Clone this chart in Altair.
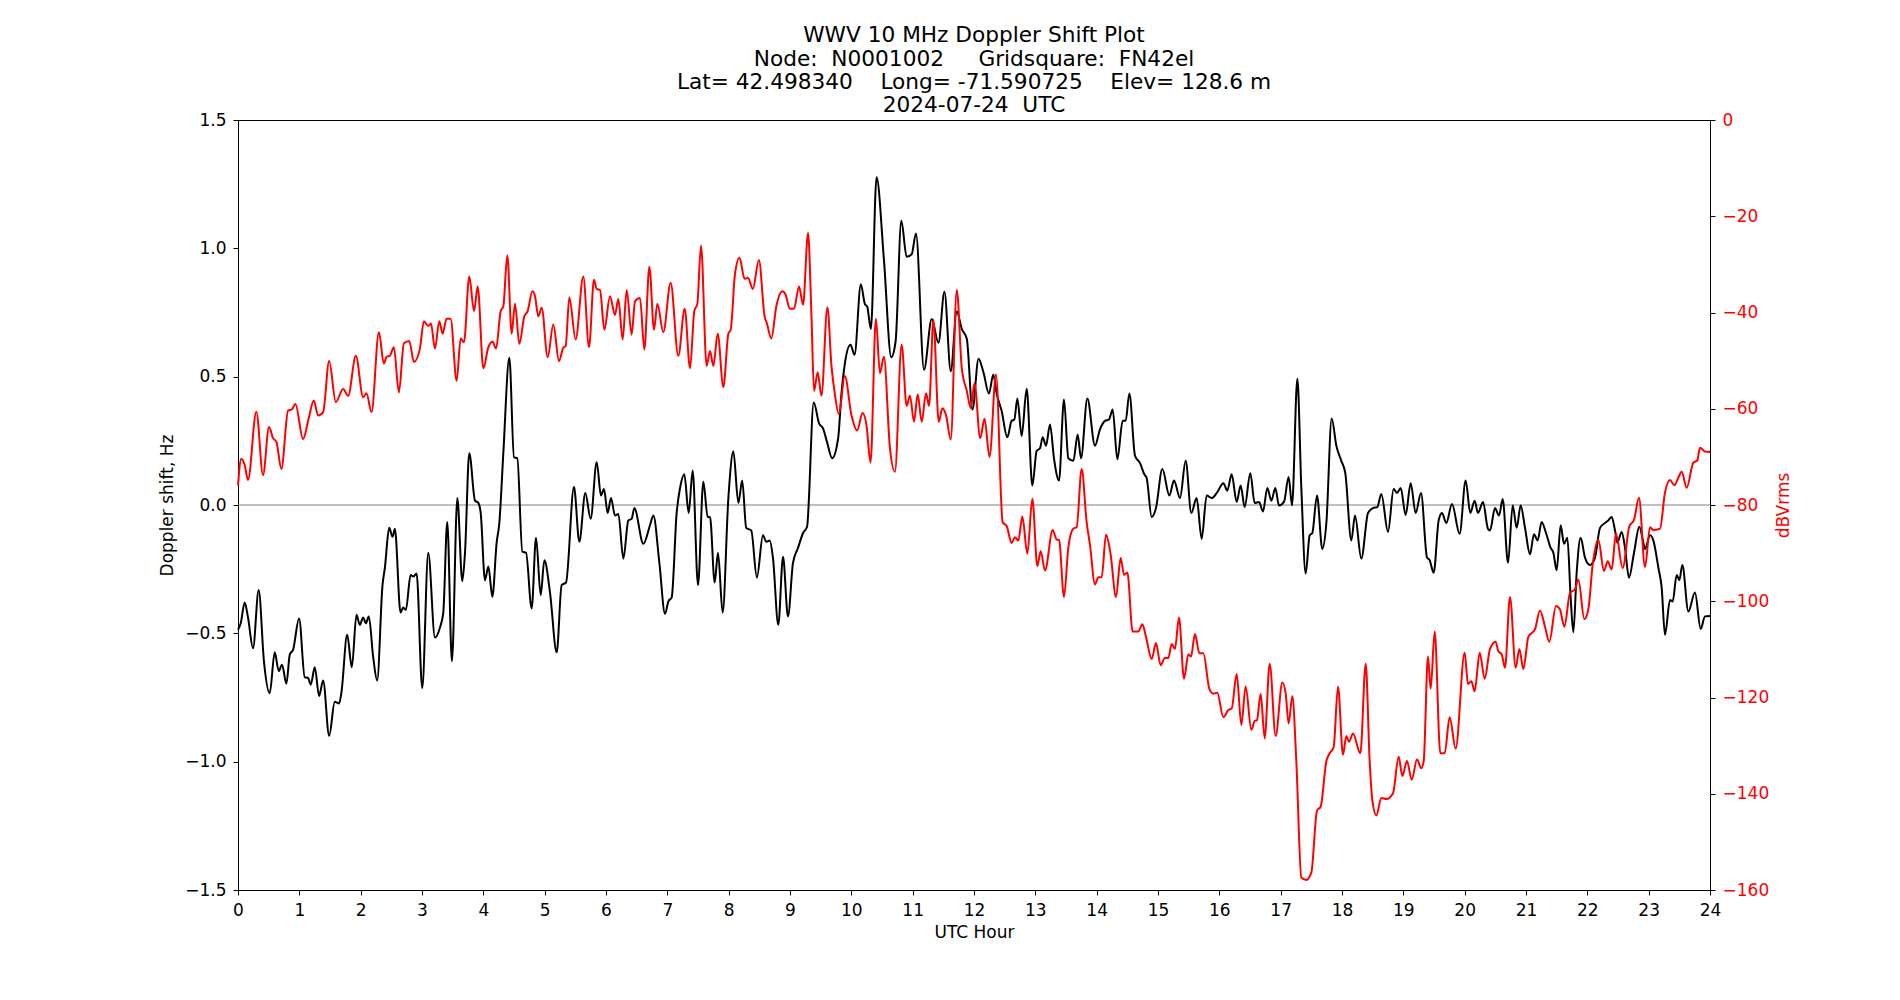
import altair as alt
import pandas as pd

# Doppler shift trace: UTC hour and shift in Hz (left axis)
doppler_hour = [
    0.0, 0.044, 0.109, 0.163, 0.245, 0.337, 0.424, 0.517, 0.599, 0.664, 0.718, 0.789, 0.844, 0.898,
    0.996, 1.088, 1.143, 1.186, 1.252, 1.322, 1.388, 1.486, 1.578, 1.649, 1.687, 1.780, 1.856, 1.932,
    1.986, 2.041, 2.084, 2.133, 2.204, 2.269, 2.356, 2.395, 2.465, 2.520, 2.558, 2.650, 2.694, 2.737,
    2.814, 2.857, 2.912, 3.004, 3.102, 3.211, 3.293, 3.347, 3.412, 3.488, 3.576, 3.657, 3.701, 3.771,
    3.864, 3.918, 3.957,
    4.027, 4.082, 4.147, 4.217, 4.261, 4.326, 4.424, 4.500, 4.554, 4.636, 4.696, 4.788, 4.859, 4.935,
    4.995, 5.087, 5.196, 5.277, 5.348, 5.478, 5.565, 5.663, 5.750, 5.848, 5.918, 5.967, 6.027, 6.082,
    6.147, 6.201, 6.283, 6.364, 6.418, 6.462, 6.609, 6.717, 6.772, 6.870, 6.962, 7.016, 7.071, 7.152,
    7.207, 7.277, 7.348, 7.413, 7.500, 7.587, 7.658, 7.696, 7.772, 7.826, 7.902, 7.995, 8.076, 8.158,
    8.221, 8.286, 8.368, 8.460, 8.559, 8.613, 8.668, 8.722, 8.809, 8.886, 8.967, 9.049, 9.131, 9.213,
    9.278, 9.387, 9.474, 9.540, 9.605, 9.687, 9.785, 9.839, 9.894, 9.986, 10.052, 10.155, 10.221,
    10.259, 10.319, 10.411, 10.531, 10.651, 10.722, 10.815, 10.902, 10.984, 11.054, 11.185, 11.311,
    11.420, 11.518, 11.621, 11.719, 11.801, 11.883, 11.975, 12.074, 12.155, 12.243,
    12.315, 12.370, 12.451, 12.543, 12.614, 12.658, 12.707, 12.777, 12.859, 12.951, 13.022, 13.076,
    13.120, 13.174, 13.239, 13.304, 13.386, 13.467, 13.538, 13.620, 13.690, 13.745, 13.848, 13.973,
    14.054, 14.136, 14.201, 14.261, 14.337, 14.424, 14.473, 14.533, 14.625, 14.707, 14.777, 14.815,
    14.897, 14.967, 15.071, 15.185, 15.261, 15.359, 15.451, 15.543, 15.630, 15.712, 15.793, 15.875,
    15.967, 16.065, 16.130, 16.201, 16.283,
    16.348, 16.413, 16.505, 16.576, 16.647, 16.712, 16.783, 16.848, 16.913, 16.973, 17.054, 17.130,
    17.185, 17.272, 17.337, 17.408, 17.473, 17.516, 17.592, 17.679, 17.745, 17.832, 17.908, 17.989,
    18.054, 18.152, 18.212, 18.315, 18.424, 18.505, 18.576, 18.641, 18.750, 18.842, 18.897, 18.957,
    19.038, 19.120, 19.201, 19.288, 19.386, 19.429, 19.495, 19.576, 19.630, 19.701, 19.793, 19.918,
    20.016, 20.092, 20.163, 20.217, 20.299, 20.380,
    20.413, 20.495, 20.560, 20.620, 20.707, 20.783, 20.848, 20.913, 20.984, 21.065, 21.130, 21.190,
    21.255, 21.326, 21.402, 21.446, 21.500, 21.565, 21.620, 21.674, 21.728, 21.772, 21.826, 21.891,
    21.962, 22.043, 22.125, 22.207, 22.288, 22.342, 22.397, 22.451, 22.489, 22.560, 22.614, 22.679,
    22.761, 22.848, 22.913, 22.940, 23.022, 23.076, 23.158, 23.212, 23.266, 23.348, 23.391, 23.457,
    23.500, 23.549, 23.647, 23.755, 23.848, 23.918, 24.0,
]
doppler_hz = [
    -0.486, -0.461, -0.380, -0.438, -0.558, -0.331, -0.612, -0.733, -0.574, -0.647, -0.622, -0.696,
    -0.583, -0.564, -0.442, -0.671, -0.674, -0.700, -0.632, -0.744, -0.684, -0.899, -0.767, -0.773,
    -0.729, -0.506, -0.632, -0.428, -0.467, -0.438, -0.461, -0.434, -0.593, -0.684, -0.312, -0.244,
    -0.089, -0.124, -0.093, -0.419, -0.399, -0.409, -0.273, -0.279, -0.267, -0.713, -0.186, -0.516,
    -0.477, -0.419, -0.066, -0.609, 0.027, -0.297, -0.186, 0.202, 0.017, 0.008, -0.031,
    -0.293, -0.240, -0.357, -0.147, -0.070, 0.202, 0.574, 0.186, 0.182, -0.182, -0.186, -0.403,
    -0.128, -0.351, -0.215, -0.341, -0.574, -0.312, -0.302, 0.070, -0.143, 0.047, -0.054, 0.167,
    0.037, 0.062, -0.031, 0.027, -0.041, -0.035, -0.209, -0.060, -0.054, -0.012, -0.151, -0.079,
    -0.041, -0.225, -0.424, -0.376, -0.360, -0.031, 0.066, 0.120, -0.031, 0.134, -0.312, 0.091,
    -0.047, -0.047, -0.302, -0.186, -0.419, 0.027, 0.209, 0.008,
    0.095, -0.089, -0.099, -0.283, -0.118, -0.143, -0.138, -0.205, -0.467, -0.202, -0.434, -0.225,
    -0.167, -0.109, -0.085, 0.399, 0.318, 0.298, 0.244, 0.182, 0.260, 0.434, 0.550, 0.624, 0.585,
    0.860, 0.783, 0.773, 0.686, 1.277, 0.957, 0.576, 0.638, 1.107, 0.967, 0.977, 1.058, 0.527,
    0.725, 0.632, 0.831, 0.521, 0.754, 0.686, 0.647, 0.372, 0.570, 0.516, 0.434,
    0.508, 0.434, 0.366, 0.264, 0.328, 0.333, 0.415, 0.269, 0.453, 0.076, 0.211, 0.221, 0.264,
    0.231, 0.314, 0.182, 0.095, 0.411, 0.182, 0.172, 0.275, 0.182, 0.415, 0.231, 0.295, 0.328,
    0.333, 0.372, 0.178, 0.328, 0.328, 0.434, 0.192, 0.163, 0.120, 0.105, -0.047, -0.012, 0.140,
    0.037, 0.095, 0.027, 0.172, -0.031, 0.027, -0.132, 0.037, 0.027, 0.050, 0.085, 0.056, 0.120,
    0.012,
    0.076, -0.008, 0.124, 0.008, 0.012, -0.025, 0.066, 0.017, 0.066, -0.002, 0.012, 0.109, -0.002,
    0.492, 0.066, -0.267, -0.118, -0.109, 0.037, -0.171, -0.070, 0.337, 0.231, 0.172, 0.124,
    -0.138, -0.041, -0.209, -0.031, -0.012, -0.008, 0.043, -0.105, 0.062, 0.047, 0.066, -0.039,
    0.085, -0.031, 0.047, -0.205, -0.215, -0.264, -0.060, -0.031, -0.070, 0.004, -0.112, 0.095,
    -0.031, 0.017, -0.031, 0.012, -0.093,
    -0.099, -0.012, -0.041, 0.023, -0.225, -0.002, -0.089, -0.002, -0.089, -0.192, -0.114, -0.138,
    -0.066, -0.109, -0.167, -0.186, -0.254, -0.079, -0.151, -0.128, -0.360, -0.496, -0.264, -0.128,
    -0.205, -0.234, -0.205, -0.089, -0.070, -0.060, -0.047, -0.099, -0.147, -0.105, -0.167, -0.283,
    -0.186, -0.085, -0.147, -0.172, -0.118, -0.138, -0.244, -0.322, -0.506, -0.370, -0.376, -0.273,
    -0.293, -0.234, -0.415, -0.341, -0.483, -0.434, -0.432,
]

# Received signal level: UTC hour and level in dBVrms (right axis)
level_hour = [
    0.0, 0.054, 0.109, 0.163, 0.299, 0.408, 0.506, 0.571, 0.626, 0.707, 0.816, 0.882, 0.936, 1.061,
    1.154, 1.235, 1.306, 1.388, 1.486, 1.595, 1.714, 1.796, 1.921, 2.041, 2.095, 2.177, 2.297, 2.378,
    2.422, 2.476, 2.541, 2.623, 2.705, 2.792, 2.868, 2.966, 3.031, 3.102, 3.146, 3.211, 3.282, 3.336,
    3.401, 3.467, 3.565, 3.630, 3.684, 3.771, 3.848, 3.908, 4.000,
    4.082, 4.152, 4.207, 4.283, 4.326, 4.391, 4.462, 4.516, 4.587, 4.668, 4.723, 4.799, 4.842, 4.897,
    4.951, 5.049, 5.141, 5.234, 5.304, 5.342, 5.402, 5.505, 5.630, 5.723, 5.804, 5.848, 5.902, 5.973,
    6.065, 6.147, 6.201, 6.272, 6.337, 6.418, 6.473, 6.554, 6.625, 6.707, 6.783, 6.837, 6.935, 7.054,
    7.179, 7.283, 7.370, 7.440, 7.489, 7.549, 7.641, 7.696, 7.750, 7.821, 7.913, 7.995, 8.033, 8.103,
    8.177, 8.259, 8.313, 8.395, 8.493, 8.586, 8.624, 8.695, 8.777, 8.875, 8.929, 8.995, 9.065, 9.147,
    9.213, 9.294, 9.349, 9.392, 9.452, 9.512, 9.610, 9.676, 9.730, 9.796, 9.894, 10.003, 10.095,
    10.183, 10.248, 10.313, 10.401, 10.466, 10.531, 10.629, 10.711, 10.820, 10.902, 10.956, 11.022,
    11.082, 11.147, 11.218, 11.267, 11.338, 11.425, 11.485, 11.545, 11.621, 11.719, 11.801, 11.883,
    11.948, 12.008, 12.101, 12.172, 12.253,
    12.359, 12.467, 12.533, 12.614, 12.668, 12.723, 12.788, 12.870, 12.951, 13.033, 13.087, 13.158,
    13.283, 13.348, 13.386, 13.467, 13.538, 13.620, 13.674, 13.755, 13.837, 13.891, 13.973, 14.027,
    14.082, 14.152, 14.228, 14.315, 14.391, 14.446, 14.500, 14.587, 14.679, 14.745, 14.804, 14.897,
    14.967, 15.043, 15.114, 15.168, 15.223, 15.277, 15.342, 15.424, 15.495, 15.538, 15.603, 15.674,
    15.739, 15.837, 15.902, 15.967, 16.065, 16.147, 16.201, 16.283,
    16.359, 16.429, 16.522, 16.576, 16.614, 16.674, 16.739, 16.821, 16.918, 17.027, 17.082, 17.130,
    17.190, 17.255, 17.337, 17.418, 17.500, 17.592, 17.652, 17.745, 17.799, 17.864, 17.935, 18.016,
    18.071, 18.114, 18.179, 18.299, 18.386, 18.451, 18.495, 18.560, 18.641, 18.723, 18.832, 18.924,
    18.984, 19.060, 19.136, 19.223, 19.293, 19.332, 19.402, 19.446, 19.511, 19.603, 19.674, 19.755,
    19.853, 20.000, 20.054, 20.109, 20.163, 20.245, 20.326,
    20.413, 20.505, 20.549, 20.603, 20.658, 20.739, 20.832, 20.891, 20.957, 21.038, 21.147, 21.228,
    21.310, 21.380, 21.489, 21.554, 21.625, 21.717, 21.799, 21.853, 21.951, 22.016, 22.087, 22.179,
    22.272, 22.332, 22.397, 22.467, 22.576, 22.685, 22.761, 22.842, 22.940, 23.022, 23.076, 23.185,
    23.266, 23.348, 23.418, 23.484, 23.538, 23.620, 23.728, 23.793, 23.837, 23.918, 24.0,
]
level_db = [
    -75.9, -70.4, -71.7, -74.8, -60.6, -73.8, -63.8, -66.1, -66.9, -72.5, -60.4, -60.1, -59.0, -66.3,
    -61.9, -58.3, -61.4, -60.7, -50.1, -58.6, -55.9, -57.3, -49.0, -57.6, -56.8, -60.7, -44.1, -50.6,
    -49.2, -49.0, -47.2, -56.6, -46.4, -45.9, -50.3, -47.5, -41.8, -42.8, -42.3, -47.5, -41.8, -44.4,
    -41.3, -41.3, -54.2, -45.4, -46.2, -32.5, -39.7, -34.6, -51.6,
    -47.2, -46.1, -47.5, -39.7, -38.7, -28.1, -44.4, -38.2, -46.5, -40.8, -39.7, -35.6, -36.6, -40.8,
    -39.0, -49.3, -42.5, -50.1, -47.3, -47.0, -36.9, -45.6, -32.5, -47.2, -33.2, -35.1, -35.3, -43.6,
    -36.6, -40.5, -37.2, -45.6, -35.3, -44.6, -37.7, -37.0, -47.7, -30.5, -43.6, -38.2, -44.1, -33.8,
    -49.0, -39.2, -51.6, -39.7, -38.2, -26.1, -51.1, -48.0, -51.1, -44.4, -55.5, -44.4, -43.6, -32.0,
    -28.6, -33.0, -32.8, -35.1, -29.1, -40.8, -42.3, -45.4, -38.7, -35.6, -36.3, -39.2, -39.2, -34.6,
    -38.4, -23.5, -40.3, -56.3, -52.4, -57.3, -38.9, -51.1, -56.8, -61.1, -53.2, -61.4, -64.5,
    -60.9, -63.5, -71.2, -41.3, -52.6, -49.2, -68.1, -73.1, -46.7, -59.4, -57.3, -62.7,
    -57.0, -62.7, -56.8, -59.4, -41.5, -62.7, -59.9, -61.4, -66.4, -35.3, -51.6, -56.3,
    -59.9, -54.7, -66.1, -62.1, -70.0,
    -52.9, -83.6, -84.4, -87.9, -86.7, -87.4, -82.4, -90.1, -78.7, -92.7, -89.6, -93.6,
    -85.2, -87.2, -87.2, -99.1, -88.8, -84.9, -84.6, -72.5, -83.6, -88.3, -96.5, -95.0,
    -95.0, -86.2, -90.3, -99.1, -91.0, -94.5, -94.0, -106.3, -106.3, -104.8, -107.4, -112.0,
    -108.7, -113.3, -111.8, -111.8, -108.9, -109.9, -103.4, -116.1, -111.0, -111.5, -106.8, -110.8,
    -110.8, -118.2, -119.2, -119.0, -124.1, -122.6, -122.3, -115.1,
    -125.7, -117.7, -126.7, -124.9, -124.7, -119.2, -128.5, -113.0, -128.0, -116.9, -119.2, -125.4,
    -119.7, -133.2, -157.4, -157.9, -156.4, -143.5, -142.7, -133.2, -131.6, -130.3, -117.7, -131.9,
    -128.0, -129.2, -127.5, -131.6, -113.0, -133.2, -141.4, -144.5, -140.9, -141.1, -139.9, -132.3,
    -136.3, -133.2, -137.1, -132.9, -134.7, -133.2, -111.5, -118.2, -106.3, -131.6, -131.6, -124.1,
    -130.6, -110.7, -117.2, -116.6, -118.7, -110.7, -116.1,
    -109.9, -108.4, -110.4, -111.0, -113.8, -99.1, -113.8, -109.9, -114.1, -107.4, -105.8, -101.9,
    -105.3, -108.4, -101.0, -101.7, -105.3, -98.3, -97.5, -95.5, -103.7, -101.7, -92.4, -87.2,
    -93.7, -91.7, -93.4, -86.0, -93.1, -84.4, -83.1, -78.5, -92.9, -84.6, -85.2, -84.9,
    -77.4, -74.8, -75.9, -74.3, -73.1, -76.4, -71.2, -70.7, -68.1, -68.9, -69.0,
]

hour_ticks = list(range(0, 25))
hz_ticks = [-1.5, -1.0, -0.5, 0.0, 0.5, 1.0, 1.5]
db_ticks = list(range(-160, 1, 20))

title_lines = [
    "WWV 10 MHz Doppler Shift Plot",
    "Node:\u00a0\u00a0N0001002\u00a0\u00a0\u00a0\u00a0\u00a0Gridsquare:\u00a0\u00a0FN42el",
    "Lat=\u00a042.498340\u00a0\u00a0\u00a0\u00a0Long=\u00a0-71.590725\u00a0\u00a0\u00a0\u00a0Elev=\u00a0128.6\u00a0m",
    "2024-07-24\u00a0\u00a0UTC",
]

FONT = "DejaVu Sans"

doppler = pd.DataFrame({"hour": doppler_hour, "hz": doppler_hz})
level = pd.DataFrame({"hour": level_hour, "db": level_db})
zero = pd.DataFrame({"hz": [0.0]})

x_scale = alt.Scale(domain=[0, 24], nice=False, zero=False)
x_enc = alt.X(
    "hour:Q",
    scale=x_scale,
    axis=alt.Axis(title="UTC Hour", values=hour_ticks, format="d", titlePadding=6),
)
hz_scale = alt.Scale(domain=[-1.5, 1.5], nice=False, zero=False)

# horizontal reference line at zero shift
zero_line = alt.Chart(zero).mark_rule(color="#808080", strokeWidth=1).encode(
    y=alt.Y("hz:Q", scale=hz_scale, axis=None)
)

doppler_line = alt.Chart(doppler).mark_line(
    color="black", strokeWidth=2, interpolate="monotone"
).encode(
    x=x_enc,
    y=alt.Y(
        "hz:Q",
        scale=hz_scale,
        axis=alt.Axis(
            title="Doppler shift, Hz",
            orient="left",
            values=hz_ticks,
            format=".1f",
            titlePadding=8,
        ),
    ),
)

level_line = alt.Chart(level).mark_line(
    color="red", strokeWidth=2, interpolate="monotone"
).encode(
    x=x_enc,
    y=alt.Y(
        "db:Q",
        scale=alt.Scale(domain=[-160, 0], nice=False, zero=False),
        axis=alt.Axis(
            title="dBVrms",
            orient="right",
            values=db_ticks,
            format="d",
            labelColor="red",
            titleColor="red",
            titleAngle=270,
            titleBaseline="top",
            titlePadding=7,
        ),
    ),
)

chart = (
    alt.layer(zero_line, doppler_line, level_line)
    .resolve_scale(y="independent")
    .properties(
        width=1472,
        height=770,
        padding={"left": 238, "top": 120, "right": 190, "bottom": 110},
        autosize=alt.AutoSizeParams(type="none"),
        background="white",
        title=alt.Title(text=title_lines),
    )
    .configure_view(stroke="black", strokeWidth=1)
    .configure_axis(
        labelFont=FONT,
        titleFont=FONT,
        labelFontSize=17,
        titleFontSize=17,
        titleFontWeight="normal",
        labelColor="black",
        titleColor="black",
        tickColor="black",
        domainColor="black",
        tickSize=5,
        tickWidth=1,
        domainWidth=1,
        labelPadding=7,
        labelFlush=False,
        grid=False,
    )
    .configure_title(
        font=FONT,
        fontSize=21.67,
        fontWeight="normal",
        color="black",
        anchor="middle",
        frame="group",
        lineHeight=23.3,
        offset=-6,
    )
)

chart.save("out.html", embed_options={"renderer": "svg", "actions": False})
